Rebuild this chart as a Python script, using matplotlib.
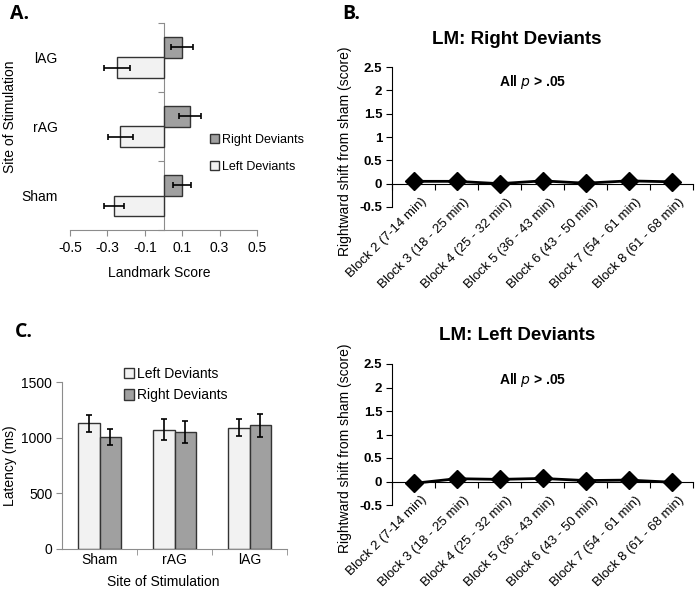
import numpy as np
import matplotlib
matplotlib.use('Agg')
import matplotlib.pyplot as plt
from matplotlib.transforms import ScaledTranslation

plt.rcParams['font.family'] = ['Liberation Sans', 'DejaVu Sans']
plt.rcParams['axes.unicode_minus'] = False

# panel A: landmark score per site (bottom to top)
sites_a = ['Sham', 'rAG', 'lAG']
a_right = [0.10, 0.143, 0.10]
a_right_err = [0.047, 0.06, 0.06]
a_left = [-0.264, -0.232, -0.249]
a_left_err = [0.054, 0.067, 0.07]
a_xticks = [-0.5, -0.3, -0.1, 0.1, 0.3, 0.5]
a_xticklabels = ['-0.5', '-0.3', '-0.1', '0.1', '0.3', '0.5']

# panel B: shift from sham per block
blocks = ['Block 2 (7-14 min)', 'Block 3 (18 - 25 min)', 'Block 4 (25 - 32 min)',
          'Block 5 (36 - 43 min)', 'Block 6 (43 - 50 min)', 'Block 7 (54 - 61 min)',
          'Block 8 (61 - 68 min)']
lm_right = [0.05, 0.05, 0.0, 0.06, 0.01, 0.06, 0.04]
lm_left = [-0.04, 0.06, 0.045, 0.065, 0.02, 0.03, -0.015]
b_yticks = [-0.5, 0, 0.5, 1, 1.5, 2, 2.5]
b_yticklabels = ['-0.5', '0', '0.5', '1', '1.5', '2', '2.5']

# panel C: latency per site
sites_c = ['Sham', 'rAG', 'lAG']
c_left = [1130, 1072, 1090]
c_left_err = [75, 97, 75]
c_right = [1005, 1048, 1110]
c_right_err = [72, 98, 103]

DARK = '#a0a0a0'
LIGHT = '#f2f2f2'
EDGE = '#333333'
AXC = '#8c8c8c'

W, H = 698, 599
fig = plt.figure(figsize=(W / 100, H / 100), dpi=100)


def box(x0, y0, x1, y1):
    return [x0 / W, 1 - y1 / H, (x1 - x0) / W, (y1 - y0) / H]


ekw = dict(ecolor='black', elinewidth=1.2, capsize=2.5, capthick=1.2)

# ---------- A ----------
ax = fig.add_axes(box(70, 23, 257, 230))
y = np.arange(len(sites_a))
h = 0.29
ax.barh(y + h / 2, a_right, h, xerr=a_right_err, color=DARK, edgecolor=EDGE, lw=1,
        error_kw=ekw, label='Right Deviants', zorder=3)
ax.barh(y - h / 2, a_left, h, xerr=a_left_err, color=LIGHT, edgecolor=EDGE, lw=1,
        error_kw=ekw, label='Left Deviants', zorder=3)
ax.set_xlim(-0.5, 0.5)
ax.set_ylim(-0.5, 2.5)
ax.set_xticks(a_xticks, a_xticklabels, fontsize=10)
ax.set_yticks(y, sites_a, fontsize=10)
ax.tick_params(axis='y', length=0, pad=9)
ax.tick_params(axis='x', length=4, color=AXC, direction='out', pad=4)
for s in ['top', 'right', 'left']:
    ax.spines[s].set_visible(False)
ax.spines['bottom'].set_color(AXC)
sec = ax.secondary_yaxis(0.5)
sec.set_yticks([-0.5, 0.5, 1.5, 2.5])
sec.yaxis.set_ticks_position('left')
sec.tick_params(labelleft=False, labelright=False, length=4, color=AXC, direction='out')
for s in sec.spines.values():
    s.set_color(AXC)
ax.set_xlabel('Landmark Score', fontsize=10)
ax.xaxis.set_label_coords(0.476, -0.172)
ax.set_ylabel('Site of Stimulation', fontsize=10)
ax.yaxis.set_label_coords(-0.283, 0.546)
ax.legend(loc='center left', bbox_to_anchor=(0.72, 0.37), frameon=False, fontsize=9,
          handlelength=0.75, handleheight=0.75, handletextpad=0.2, labelspacing=1.2,
          borderaxespad=0)
fig.text(10 / W, 1 - 14 / H, 'A.', fontsize=14, fontweight='bold', family='Open Sans',
         va='center')


# ---------- B ----------
def lm_panel(y0, y1, vals, title):
    bx = fig.add_axes(box(392, y0, 693, y1))
    x = np.arange(len(blocks))
    bx.plot(x, vals, color='black', lw=2, marker='D', markersize=9.5, zorder=3, clip_on=False)
    bx.set_xlim(-0.5, 6.5)
    bx.set_ylim(-0.5, 2.5)
    bx.set_yticks(b_yticks, b_yticklabels, fontsize=9.5, fontweight='bold')
    bx.tick_params(axis='y', length=4, direction='out', pad=3)
    bx.set_xticks(x, blocks, fontsize=9.5, rotation=45, ha='right', va='center',
                  rotation_mode='anchor')
    bx.tick_params(axis='x', length=0, pad=0)
    off = ScaledTranslation(0.11, 0.07, fig.dpi_scale_trans)
    for lab in bx.get_xticklabels():
        lab.set_transform(lab.get_transform() + off)
    for s in ['top', 'right', 'bottom']:
        bx.spines[s].set_visible(False)
    sx = bx.secondary_xaxis(1 / 6)
    sx.set_xticks(np.arange(-0.5, 7, 1))
    sx.tick_params(labelbottom=False, labeltop=False, length=4, direction='out')
    bx.set_ylabel('Rightward shift from sham (score)', fontsize=10)
    bx.yaxis.set_label_coords(-0.134, 0.40)
    bx.text(0.415, 1.2, title, transform=bx.transAxes, ha='center', va='center',
            fontsize=13.5, fontweight='bold')
    bx.text(0.467, 0.89, r'All $\bf{\it{p}}$ > .05', transform=bx.transAxes, ha='center',
            va='center', fontsize=10, fontweight='bold')
    return bx


lm_panel(67, 207, lm_right, 'LM: Right Deviants')
lm_panel(364, 505, lm_left, 'LM: Left Deviants')
fig.text(342 / W, 1 - 14 / H, 'B.', fontsize=14, fontweight='bold', family='Open Sans',
         va='center')

# ---------- C ----------
cx = fig.add_axes(box(62, 382, 287, 549))
xc = np.arange(len(sites_c))
w = 0.285
cx.bar(xc - w / 2, c_left, w, yerr=c_left_err, color=LIGHT, edgecolor=EDGE, lw=1,
       error_kw=ekw, label='Left Deviants', zorder=3)
cx.bar(xc + w / 2, c_right, w, yerr=c_right_err, color=DARK, edgecolor=EDGE, lw=1,
       error_kw=ekw, label='Right Deviants', zorder=3)
cx.set_xlim(-0.5, 2.5)
cx.set_ylim(0, 1500)
cx.set_yticks([0, 500, 1000, 1500])
cx.tick_params(axis='y', labelsize=10, length=4, color=AXC, direction='out', pad=3)
cx.set_xticks(xc, sites_c, fontsize=10)
cx.tick_params(axis='x', length=0, pad=3)
cx.set_xticks([0.5, 1.5, 2.5], minor=True)
cx.tick_params(axis='x', which='minor', length=4, color=AXC, direction='out')
for s in ['top', 'right']:
    cx.spines[s].set_visible(False)
cx.spines['left'].set_color(AXC)
cx.spines['bottom'].set_color(AXC)
cx.set_xlabel('Site of Stimulation', fontsize=10)
cx.xaxis.set_label_coords(0.452, -0.155)
cx.set_ylabel('Latency (ms)', fontsize=10)
cx.yaxis.set_label_coords(-0.2, 0.5)
cx.legend(loc='center left', bbox_to_anchor=(0.25, 0.985), frameon=False, fontsize=10,
          handlelength=0.75, handleheight=0.75, handletextpad=0.2, labelspacing=0.55,
          borderaxespad=0)
fig.text(15 / W, 1 - 332 / H, 'C.', fontsize=14, fontweight='bold', family='Open Sans',
         va='center')

fig.savefig('out.png', dpi=100)
